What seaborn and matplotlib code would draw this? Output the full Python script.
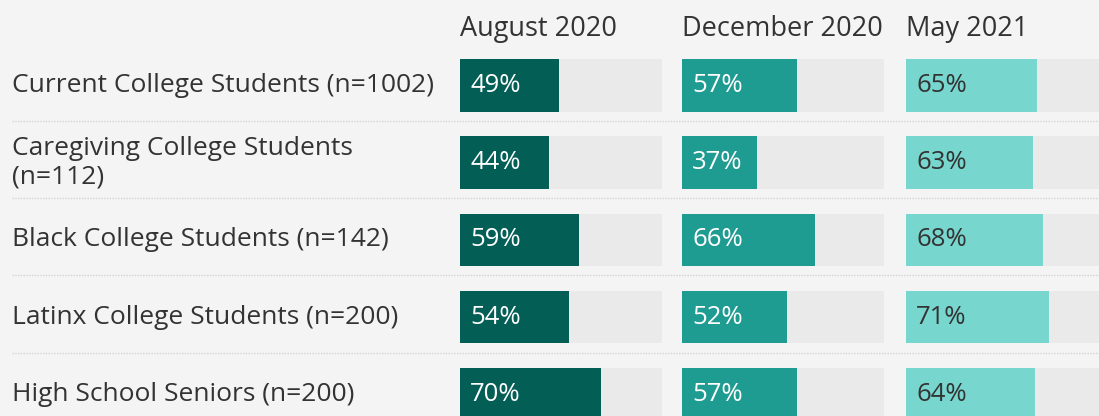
import numpy as np
import pandas as pd
import matplotlib
matplotlib.use("Agg")
import matplotlib.pyplot as plt
import seaborn as sns

sns.set_style("white")
plt.rcParams["font.family"] = ["Open Sans", "DejaVu Sans"]

GROUPS = [
    "Current College Students (n=1002)",
    "Caregiving College Students\n(n=112)",
    "Black College Students (n=142)",
    "Latinx College Students (n=200)",
    "High School Seniors (n=200)",
]
PERIODS = ["August 2020", "December 2020", "May 2021"]
AUG_2020 = [49, 44, 59, 54, 70]
DEC_2020 = [57, 37, 66, 52, 57]
MAY_2021 = [65, 63, 68, 71, 64]

BAR_COLORS = ["#035e55", "#1f9c92", "#77d7cf"]
LABEL_COLORS = ["white", "white", "#333333"]
TRACK = "#eaeaea"
BG = "#f4f4f4"
TEXT = "#333333"

W, H = 1099, 416
fig = plt.figure(figsize=(W / 100, H / 100), dpi=100, facecolor=BG)

# row geometry in data units (one unit per row)
ytop, ybot = -1.106, 4.282

# background axes for row labels and dotted separators
bg = fig.add_axes([0, 0, 1, 1])
bg.set_xlim(0, W)
bg.set_ylim(ybot, ytop)
bg.axis("off")
for i, g in enumerate(GROUPS):
    bg.text(12, i, g, ha="left", va="center", fontsize=19, color=TEXT,
            linespacing=1.15)
for i in range(len(GROUPS) - 1):
    bg.hlines(i + 0.46, 12, W, colors="#d3d3d3", linestyles=(0, (1, 1)), lw=1)

series = [AUG_2020, DEC_2020, MAY_2021]
lefts = [460, 682, 906]
for k, (period, vals) in enumerate(zip(PERIODS, series)):
    ax = fig.add_axes([lefts[k] / W, 0, 202 / W, 1])
    df = pd.DataFrame({"group": GROUPS, "value": vals, "full": 100})
    sns.barplot(data=df, x="full", y="group", orient="h", color=TRACK,
                width=0.68, saturation=1, linewidth=0, ax=ax)
    sns.barplot(data=df, x="value", y="group", orient="h", color=BAR_COLORS[k],
                width=0.68, saturation=1, linewidth=0, ax=ax)
    ax.set_xlim(0, 100)
    ax.set_ylim(ybot, ytop)
    ax.axis("off")
    ax.text(0, -0.73, period, ha="left", va="center", fontsize=19.5, color=TEXT)
    for i, v in enumerate(vals):
        ax.text(5, i, f"{v}%", ha="left", va="center", fontsize=18.5,
                color=LABEL_COLORS[k])

fig.savefig("out.png", dpi=100, facecolor=BG)
